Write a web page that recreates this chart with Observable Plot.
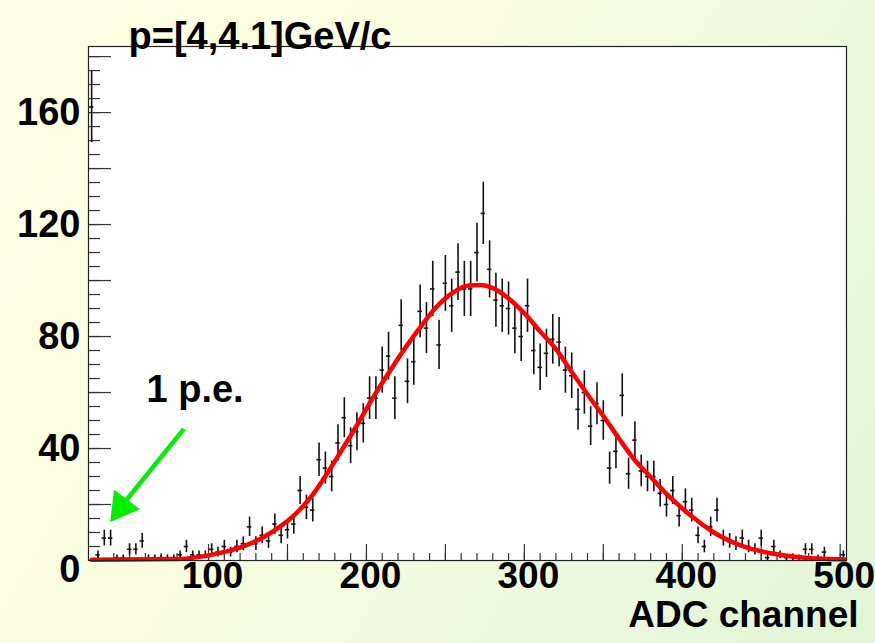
<!DOCTYPE html>
<html>
<head>
<meta charset="utf-8">
<script src="https://cdn.jsdelivr.net/npm/d3@7"></script>
<script src="https://cdn.jsdelivr.net/npm/@observablehq/plot@0.6"></script>
<style>
  html, body { margin: 0; padding: 0; }
  body {
    width: 875px; height: 643px; overflow: hidden;
    background: linear-gradient(120deg, #fefee4 0%, #fbfde0 35%, #eef9dc 70%, #e1f5d6 100%);
    font-family: "Liberation Sans", Arial, Helvetica, sans-serif;
  }
  #chart svg { background: transparent !important; display: block; }
</style>
</head>
<body>
<div id="chart"></div>
<script>
// ---- data ----
const binStart = 26;      // first bin centre (ADC)
const binWidth = 4;       // ADC channels per bin
const counts = [162, 2, 8, 8, 1, 1, 4, 4, 7, 1, 1, 1, 1, 1, 2, 5, 2, 2, 2, 4,
  3, 5, 3, 5, 6, 12, 6, 9, 7, 13, 9, 11, 13, 25, 19, 18, 36, 33, 30, 42,
  51, 41, 46, 49, 58, 58, 68, 73, 58, 84, 64, 71, 89, 83, 97, 77, 99, 91, 103, 97,
  97, 110, 124, 104, 93, 91, 90, 83, 80, 91, 75, 69, 74, 79, 78, 68, 66, 54, 60, 48,
  56, 50, 33, 39, 59, 31, 43, 32, 30, 30, 24, 20, 25, 16, 21, 18, 9, 5, 12, 18,
  8, 7, 6, 8, 5, 4, 8, 1, 5, 2, 1, 1, 1, 4, 4, 1, 3, 0, 0, 2];

// fitted curve
const fitX = [26, 80, 93, 103, 114, 124.5, 135, 145, 155, 165, 175, 185, 195, 205, 215, 225, 235, 245, 255, 265, 272,
  280, 290, 300, 310, 320, 330, 340, 350, 360, 370, 380, 390, 400, 410, 420, 430, 440, 450, 460, 470, 480, 490, 503];
const fitY = [0.3, 0.5, 1.2, 2.2, 3.6, 5.6, 8.4, 12, 16.6, 22.8, 31, 40, 49.3, 59, 67.8, 76.3, 84, 91, 95.8, 98.2, 98.4,
  97.3, 93.6, 88.3, 81.8, 75.5, 67.3, 59.3, 51.6, 43.5, 35.8, 29.8, 23.8, 18.6, 14, 10, 7, 4.8, 3.3, 2.2, 1.4, 0.9, 0.6, 0.4];

const xTickLabels = [100, 200, 300, 400, 500];
const yTickLabels = [40, 80, 120, 160];
const yZeroLabel = [0];
const xMajorTicks = [50, 100, 150, 200, 250, 300, 350, 400, 450, 500];
const xMinorTicks = d3.range(30, 501, 10);
const yMajorTicks = [20, 40, 60, 80, 100, 120, 140, 160, 180];
const yMinorTicks = d3.range(5, 181, 5);

const titleText = "p=[4,4.1]GeV/c";
const xTitle = "ADC channel";
const noteText = "1 p.e.";
const arrowFrom = {x: 84.4, y: 47};
const arrowTo = {x: 41, y: 15};

// ---- tables built from the arrays ----
const hist = counts.map((c, i) => ({x: binStart + i * binWidth, n: c})).filter(d => d.n > 0);
const fit = fitX.map((x, i) => ({x, y: fitY[i]}));

const W = 875, H = 643;
const mL = 88, mR = 29, mT = 46, mB = 83;
const frameW = W - mL - mR, frameH = H - mT - mB;
const font = "Liberation Sans, Arial, Helvetica, sans-serif";
const green = "#00ee00";

const chart = Plot.plot({
  width: W, height: H,
  marginLeft: mL, marginRight: mR, marginTop: mT, marginBottom: mB,
  style: {background: "transparent", fontFamily: font, overflow: "visible"},
  x: {domain: [24, 504], axis: null},
  y: {domain: [0, 183.6], axis: null},
  marks: [
    Plot.frame({fill: "white", stroke: "none"}),
    // ticks (ROOT style, inside the frame)
    Plot.tickY(yMinorTicks, {y: d => d, insetRight: frameW - 12, stroke: "#333", strokeWidth: 1.2}),
    Plot.tickY(yMajorTicks, {y: d => d, insetRight: frameW - 23, stroke: "#333", strokeWidth: 1.2}),
    Plot.tickX(xMinorTicks, {x: d => d, insetTop: frameH - 7, stroke: "#333", strokeWidth: 1.2}),
    Plot.tickX(xMajorTicks, {x: d => d, insetTop: frameH - 16, stroke: "#333", strokeWidth: 1.2}),
    // error bars
    Plot.ruleX(hist, {x: "x", y1: d => Math.max(0, d.n - Math.sqrt(d.n)), y2: d => d.n + Math.sqrt(d.n), stroke: "#111", strokeWidth: 1.6}),
    Plot.ruleY(hist, {y: "n", x1: d => d.x - 1.4, x2: d => d.x + 1.4, stroke: "#111", strokeWidth: 1.6}),
    // fit
    Plot.line(fit, {x: "x", y: "y", stroke: "#ff0000", strokeWidth: 4.5, curve: "monotone-x"}),
    Plot.frame({stroke: "#222", strokeWidth: 1.2}),
    // arrow
    Plot.link([arrowFrom], {x1: "x", y1: "y", x2: () => arrowTo.x + 4, y2: () => arrowTo.y + 4.5, stroke: green, strokeWidth: 4.5}),
    Plot.dot([arrowTo], {x: d => d.x + 3.8, y: d => d.y + 4.1, symbol: "triangle", r: 12, rotate: -143, fill: green, stroke: "none"}),
    // annotation
    Plot.text([noteText], {x: () => 91.5, y: () => 61, text: d => d, fontSize: 38, fontWeight: "bold", fill: "#000", textAnchor: "middle"}),
    // axis labels
    Plot.text(yTickLabels, {y: d => d, text: d => String(d), frameAnchor: "left", dx: -8, textAnchor: "end", fontSize: 38, fontWeight: "bold", fill: "#000"}),
    Plot.text(yZeroLabel, {y: d => d, text: d => String(d), frameAnchor: "left", dx: -8, dy: 9, textAnchor: "end", fontSize: 38, fontWeight: "bold", fill: "#000"}),
    Plot.text(xTickLabels, {x: d => d, text: d => String(d), frameAnchor: "bottom", dx: 4, dy: 27, textAnchor: "middle", fontSize: 37, fontWeight: "bold", fill: "#000"}),
    Plot.text([xTitle], {text: d => d, frameAnchor: "bottom-right", dx: 12, dy: 66, textAnchor: "end", fontSize: 37, fontWeight: "bold", fill: "#000"}),
    Plot.text([titleText], {text: d => d, frameAnchor: "top-left", dx: 40, dy: -24, textAnchor: "start", fontSize: 38, fontWeight: "bold", fill: "#000"})
  ]
});
document.getElementById("chart").appendChild(chart);
</script>
</body>
</html>
